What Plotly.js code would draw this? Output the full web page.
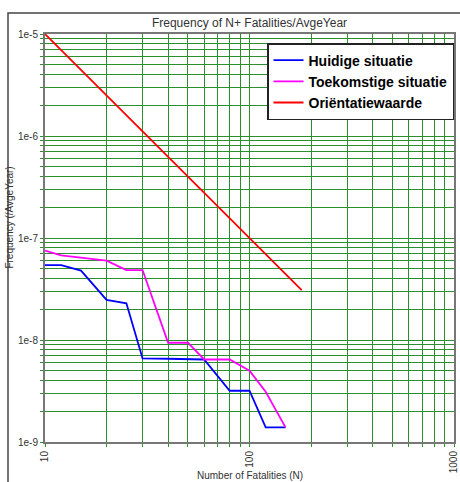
<!DOCTYPE html>
<html>
<head>
<meta charset="utf-8">
<script src="https://cdn.plot.ly/plotly-3.0.1.min.js"></script>
<style>html,body{margin:0;padding:0;background:#fff;}#chart{width:460px;height:482px;}</style>
</head>
<body>
<div id="chart"></div>
<script>
// Series names
const seriesNames = ["Huidige situatie", "Toekomstige situatie", "Oriëntatiewaarde"];

// Huidige situatie (blue)
const huidigeN = [10, 12, 15, 20, 25, 30, 40, 50, 60, 80, 100, 120, 150];
const huidigeF = [5.43e-8, 5.43e-8, 4.79e-8, 2.47e-8, 2.29e-8, 6.6e-9, 6.55e-9, 6.48e-9, 6.44e-9, 3.18e-9, 3.18e-9, 1.39e-9, 1.39e-9];

// Toekomstige situatie (magenta)
const toekomstN = [10, 12, 20, 25, 30, 40, 50, 60, 80, 100, 120, 150];
const toekomstF = [7.52e-8, 6.76e-8, 6.0e-8, 4.85e-8, 4.85e-8, 9.4e-9, 9.4e-9, 6.44e-9, 6.44e-9, 5.0e-9, 3.11e-9, 1.39e-9];

// Oriëntatiewaarde (red)
const orientN = [10, 180];
const orientF = [1e-5, 3.09e-8];

// Tick labels
const xTickLabels = ["10", "100", "1000"];
const yTickLabels = ["1e-9", "1e-8", "1e-7", "1e-6", "1e-5"];

// Build tick positions (decades labelled, intermediate digits unlabelled grid lines)
function buildTicks(labels) {
  const vals = [], text = [];
  labels.forEach((lab, i) => {
    const base = Number(lab);
    if (i < labels.length - 1) {
      for (let d = 1; d <= 9; d++) {
        vals.push(base * d);
        text.push(d === 1 ? lab : "");
      }
    } else {
      vals.push(base);
      text.push(lab);
    }
  });
  return {vals, text};
}
const xt = buildTicks(xTickLabels);
const yt = buildTicks(yTickLabels);

const gridGreen = "#2b8f2b";
const font = "Liberation Sans, Arial, sans-serif";

const traces = [
  {x: huidigeN, y: huidigeF, name: seriesNames[0], mode: "lines", line: {color: "#0000ff", width: 1.8}},
  {x: toekomstN, y: toekomstF, name: seriesNames[1], mode: "lines", line: {color: "#ff00ff", width: 1.8}},
  {x: orientN, y: orientF, name: seriesNames[2], mode: "lines", line: {color: "#ff0000", width: 1.8}}
];

const layout = {
  width: 460, height: 482,
  margin: {l: 45, r: 6, t: 34, b: 40, pad: 0},
  paper_bgcolor: "#ffffff",
  plot_bgcolor: "#ffffff",
  font: {family: font, size: 10, color: "#333"},
  title: {text: "Frequency of N+ Fatalities/AvgeYear", font: {family: font, size: 12, color: "#333"},
          x: 0.5, xref: "paper", xanchor: "center", y: 1 - 23/482, yref: "container", yanchor: "middle"},
  xaxis: {
    type: "log", range: [1, 3],
    tickmode: "array", tickvals: xt.vals, ticktext: xt.text,
    tickangle: -90, ticks: "outside", ticklen: 3, tickcolor: gridGreen,
    ticklabeloverflow: "allow",
    showgrid: true, gridcolor: gridGreen, gridwidth: 1,
    showline: true, linecolor: "#777", linewidth: 2, mirror: true,
    zeroline: false, tickfont: {family: font, size: 10, color: "#333"}
  },
  yaxis: {
    type: "log", range: [-9, -5],
    tickmode: "array", tickvals: yt.vals, ticktext: yt.text,
    ticks: "outside", ticklen: 3, tickcolor: gridGreen,
    ticklabeloverflow: "allow",
    showgrid: true, gridcolor: gridGreen, gridwidth: 1,
    showline: true, linecolor: "#777", linewidth: 2, mirror: true,
    zeroline: false, tickfont: {family: font, size: 10, color: "#333"}
  },
  showlegend: true,
  legend: {
    x: 1, xanchor: "right", y: 1 - 9/408, yanchor: "top",
    bgcolor: "#ffffff", bordercolor: "#222", borderwidth: 1.5,
    font: {family: font, size: 14, color: "#000", weight: "bold"},
    tracegroupgap: 0, itemwidth: 30
  },
  shapes: [
    {type: "rect", xref: "paper", yref: "paper", x0: (8-45)/409, x1: 1.2, y0: -0.3, y1: (442-13)/408,
     line: {color: "#444", width: 1.5}, fillcolor: "rgba(0,0,0,0)", layer: "below"}
  ],
  annotations: [
    {text: "Number of Fatalities (N)", xref: "paper", yref: "paper", x: 0.5, y: 0, yshift: -33,
     xanchor: "center", yanchor: "middle", showarrow: false, font: {family: font, size: 10, color: "#333"}},
    {text: "Frequency (/AvgeYear)", xref: "paper", yref: "paper", x: 0, xshift: -35, y: 0.55,
     xanchor: "center", yanchor: "middle", textangle: -90, showarrow: false, font: {family: font, size: 10, color: "#333"}}
  ]
};

Plotly.newPlot("chart", traces, layout, {staticPlot: true, displayModeBar: false});
</script>
</body>
</html>
